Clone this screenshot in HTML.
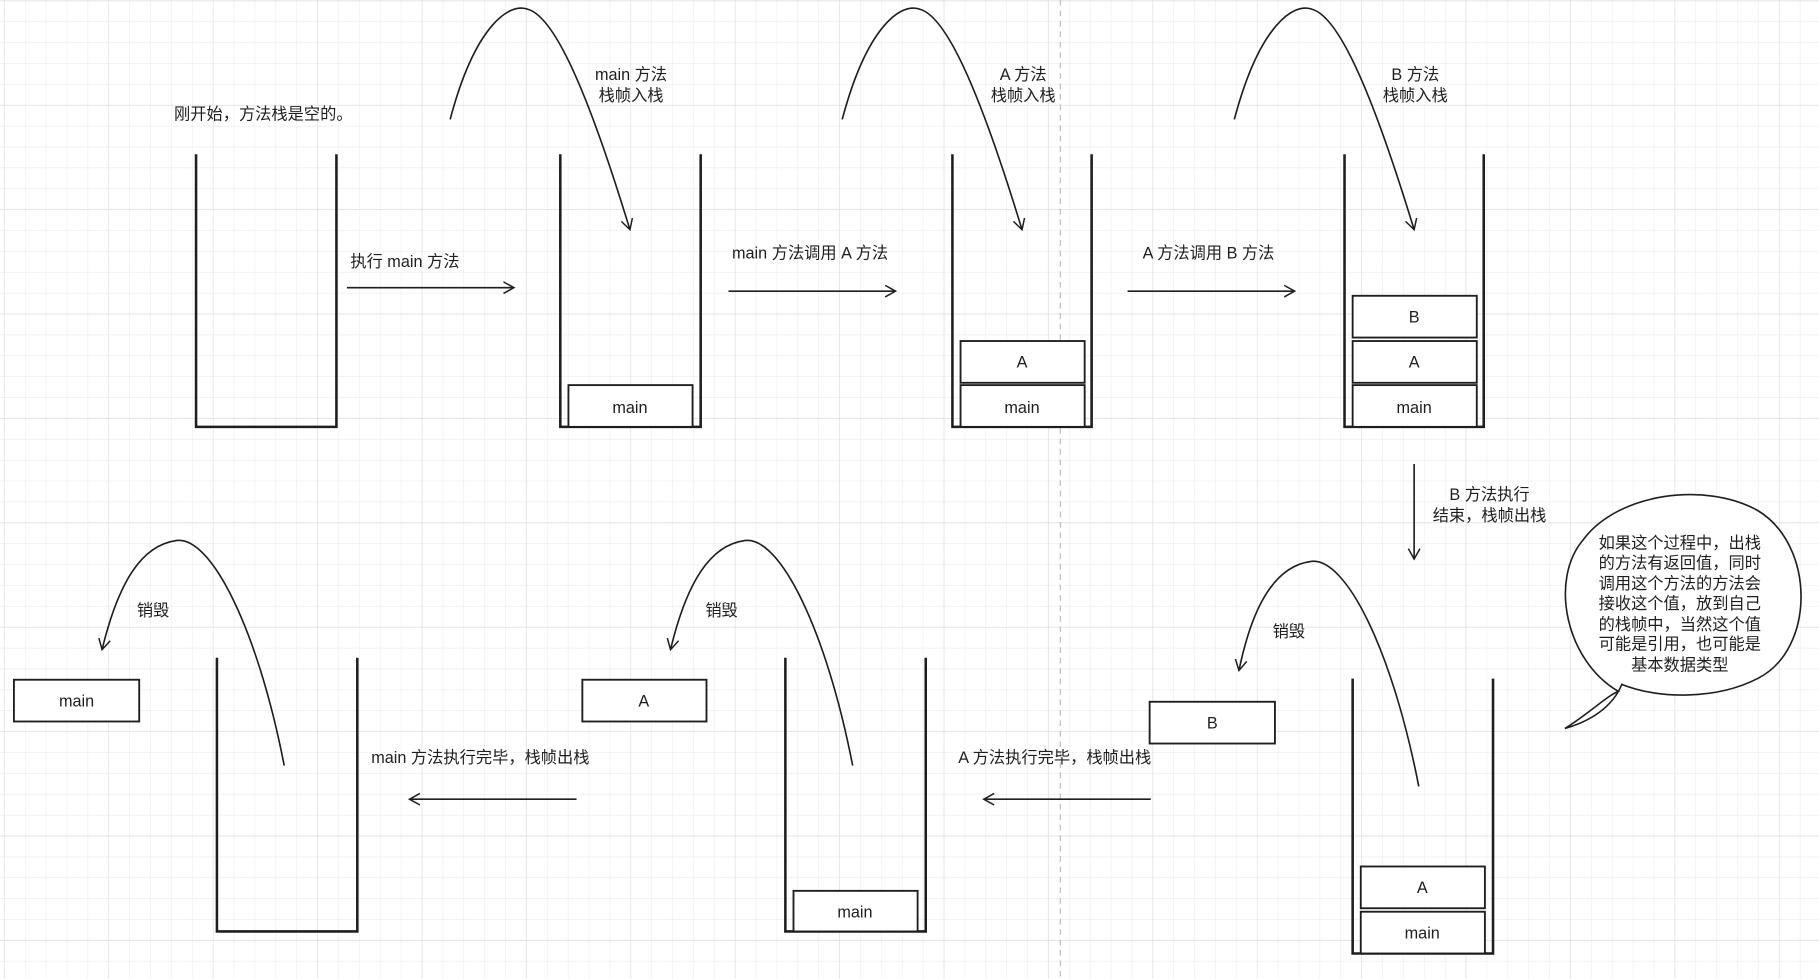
<!DOCTYPE html>
<html><head><meta charset="utf-8"><style>
html,body{margin:0;padding:0;background:#fff;}
svg{display:block;}
text{font-family:"Liberation Sans","Noto Sans CJK SC",sans-serif;font-size:14px;fill:#1e1e1e;}
</style></head><body>
<svg width="1819" height="979" viewBox="0 0 1568 844" preserveAspectRatio="none" xmlns="http://www.w3.org/2000/svg">
<defs>
<pattern id="g" width="18" height="18" patternUnits="userSpaceOnUse" x="4" y="1">
<path d="M18 0V18M0 18H18" fill="none" stroke="#ececec" stroke-width="1"/></pattern>
<pattern id="G" width="90" height="90" patternUnits="userSpaceOnUse" x="4" y="1">
<path d="M90 0V90M0 90H90" fill="none" stroke="#dcdcdc" stroke-width="1"/></pattern>
<marker id="ar" markerWidth="12" markerHeight="12" refX="10" refY="6" orient="auto" markerUnits="userSpaceOnUse">
<path d="M1 1L10 6L1 11" fill="none" stroke="#1e1e1e" stroke-width="1.3"/></marker>
</defs>
<rect width="1568" height="844" fill="url(#g)"/>
<rect width="1568" height="844" fill="url(#G)"/>
<line x1="914" y1="0" x2="914" y2="844" stroke="#bbb" stroke-dasharray="5,4"/>
<g fill="none" stroke="#1e1e1e" stroke-width="2.2">
<path d="M169 133V368H290V133"/>
<path d="M483 133V368H604V133"/>
<path d="M821 133V368H941V133"/>
<path d="M1159 133V368H1279V133"/>
<path d="M187 567V803H308V567"/>
<path d="M677 567V803H798V567"/>
<path d="M1166 585V822H1287V585"/>
</g>
<g fill="#fff" stroke="#1e1e1e" stroke-width="1.6">
<rect x="490" y="332" width="107" height="36"/>
<rect x="828" y="294" width="107" height="36"/>
<rect x="828" y="332" width="107" height="36"/>
<rect x="1166" y="255" width="107" height="36"/>
<rect x="1166" y="294" width="107" height="36"/>
<rect x="1166" y="332" width="107" height="36"/>
<rect x="1173" y="747" width="107" height="36"/>
<rect x="1173" y="786" width="107" height="36"/>
<rect x="991" y="605" width="108" height="36"/>
<rect x="684" y="768" width="107" height="35"/>
<rect x="502" y="586" width="107" height="36"/>
<rect x="12" y="586" width="108" height="36"/>
</g>
<g text-anchor="middle">
<text x="543" y="356">main</text>
<text x="881" y="317">A</text><text x="881" y="356">main</text>
<text x="1219" y="278">B</text><text x="1219" y="317">A</text><text x="1219" y="356">main</text>
<text x="1226" y="770">A</text><text x="1226" y="809">main</text>
<text x="1045" y="628">B</text>
<text x="737" y="791">main</text>
<text x="555" y="609">A</text>
<text x="66" y="609">main</text>
</g>
<g fill="none" stroke="#1e1e1e" stroke-width="1.4">
<path d="M388 103C410 20 440 2 455 8C480 15 510 90 543 198" marker-end="url(#ar)"/>
<path d="M726 103C748 20 778 2 793 8C818 15 848 90 881 198" marker-end="url(#ar)"/>
<path d="M1064 103C1086 20 1116 2 1131 8C1156 15 1186 90 1219 198" marker-end="url(#ar)"/>
<path d="M1223 678C1200 560 1160 480 1130 484C1100 488 1080 520 1068 578" marker-end="url(#ar)"/>
<path d="M735 660C712 542 672 462 642 466C612 470 592 502 578 560" marker-end="url(#ar)"/>
<path d="M245 660C222 542 182 462 152 466C122 470 102 502 88 560" marker-end="url(#ar)"/>
<path d="M299 248H443" marker-end="url(#ar)"/>
<path d="M628 251H772" marker-end="url(#ar)"/>
<path d="M972 251H1116" marker-end="url(#ar)"/>
<path d="M1219 400V482" marker-end="url(#ar)"/>
<path d="M992 689H848" marker-end="url(#ar)"/>
<path d="M497 689H353" marker-end="url(#ar)"/>
<path d="M1395 596C1350 570 1335 500 1365 465C1395 425 1470 415 1515 440C1565 470 1565 560 1515 585C1480 603 1430 603 1398 590C1390 610 1370 622 1349 628C1370 615 1385 600 1395 596Z" fill="#fff"/>
</g>
<text x="150" y="103">刚开始，方法栈是空的。</text>
<g text-anchor="middle">
<text x="544" y="69">main 方法</text><text x="544" y="87">栈帧入栈</text>
<text x="882" y="69">A 方法</text><text x="882" y="87">栈帧入栈</text>
<text x="1220" y="69">B 方法</text><text x="1220" y="87">栈帧入栈</text>
<text x="1284" y="431">B 方法执行</text><text x="1284" y="449">结束，栈帧出栈</text>
</g>
<text x="302" y="230">执行 main 方法</text>
<text x="631" y="223">main 方法调用 A 方法</text>
<text x="985" y="223">A 方法调用 B 方法</text>
<text x="826" y="658">A 方法执行完毕，栈帧出栈</text>
<text x="320" y="658">main 方法执行完毕，栈帧出栈</text>
<text x="1097" y="549">销毁</text>
<text x="608" y="531">销毁</text>
<text x="118" y="531">销毁</text>
<g text-anchor="middle">
<text x="1448" y="473">如果这个过程中，出栈</text>
<text x="1448" y="490">的方法有返回值，同时</text>
<text x="1448" y="508">调用这个方法的方法会</text>
<text x="1448" y="525">接收这个值，放到自己</text>
<text x="1448" y="543">的栈帧中，当然这个值</text>
<text x="1448" y="560">可能是引用，也可能是</text>
<text x="1448" y="578">基本数据类型</text>
</g>
</svg>
</body></html>
